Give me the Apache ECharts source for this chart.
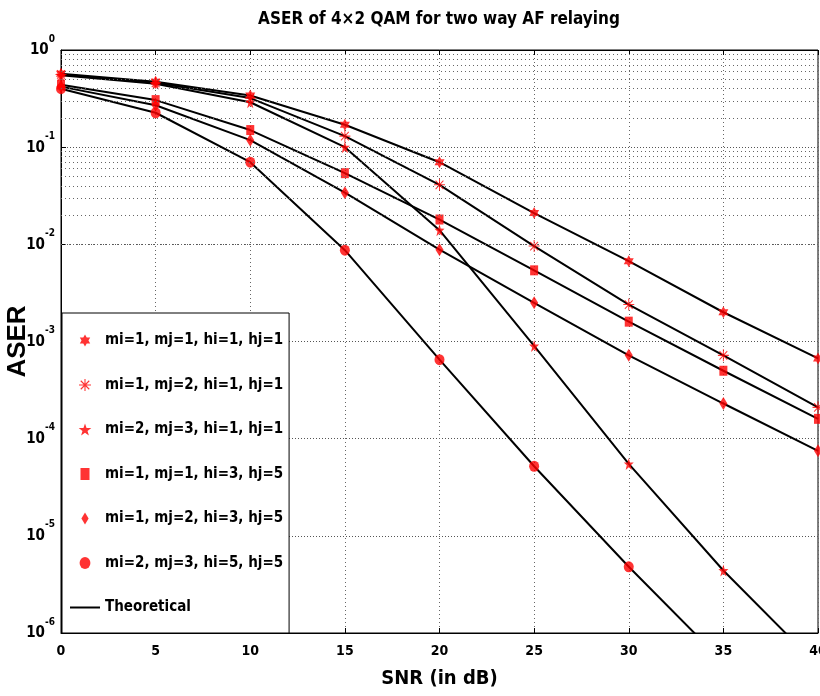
<!DOCTYPE html>
<html>
<head>
<meta charset="utf-8">
<script src="https://cdn.jsdelivr.net/npm/echarts@6/dist/echarts.min.js"></script>
<style>html,body{margin:0;padding:0;background:#fff}#c{width:820px;height:696px}</style>
</head>
<body>
<div id="c"></div>
<script>
// ---- data ----
var snr = [0, 5, 10, 15, 20, 25, 30, 35, 40];
var s1 = [0.57, 0.47, 0.34, 0.17, 0.07, 0.021, 0.0067, 0.002, 0.00067];
var s2 = [0.56, 0.46, 0.32, 0.13, 0.041, 0.0096, 0.0024, 0.00072, 0.00021];
var s3 = [0.55, 0.45, 0.29, 0.1, 0.014, 0.0009, 0.000055, 0.0000044, 0.00000046];
var s4 = [0.44, 0.305, 0.15, 0.054, 0.018, 0.0054, 0.0016, 0.0005, 0.00016];
var s5 = [0.42, 0.27, 0.118, 0.034, 0.0088, 0.0025, 0.00072, 0.00023, 0.000075];
var s6 = [0.4, 0.226, 0.07, 0.0087, 0.00065, 0.000052, 0.0000048, 0.0000005, 0.00000005];
var names = ['mi=1, mj=1, hi=1, hj=1', 'mi=1, mj=2, hi=1, hj=1', 'mi=2, mj=3, hi=1, hj=1',
             'mi=1, mj=1, hi=3, hj=5', 'mi=1, mj=2, hi=3, hj=5', 'mi=2, mj=3, hi=5, hj=5'];
var theoName = 'Theoretical';

// ---- symbols ----
function starPath(n, rIn) {
  var p = [];
  for (var k = 0; k < 2 * n; k++) {
    var a = (-90 + k * 180 / n) * Math.PI / 180;
    var r = (k % 2 === 0) ? 1 : rIn;
    p.push((k ? 'L' : 'M') + (r * Math.cos(a)).toFixed(3) + ',' + (r * Math.sin(a)).toFixed(3));
  }
  return 'path://' + p.join(' ') + ' Z';
}
function asteriskPath() {
  var s = '', w = 0.09;
  [0, 45, 90, 135].forEach(function (deg) {
    var a = deg * Math.PI / 180, c = Math.cos(a), sn = Math.sin(a);
    var pts = [[-1, -w], [1, -w], [1, w], [-1, w]].map(function (q) {
      return [(q[0] * c - q[1] * sn).toFixed(3), (q[0] * sn + q[1] * c).toFixed(3)];
    });
    s += 'M' + pts[0].join(',') + ' L' + pts[1].join(',') + ' L' + pts[2].join(',') + ' L' + pts[3].join(',') + ' Z ';
  });
  return 'path://' + s;
}
var symHex = starPath(6, 0.577);
var symAst = asteriskPath();
var symPent = starPath(5, 0.40);
var symSq = 'path://M-0.75,-1 L0.75,-1 L0.75,1 L-0.75,1 Z';
var symDia = 'path://M0,-1 L0.6,0 L0,1 L-0.6,0 Z';
var symCir = 'path://M0,-1 A0.9,1 0 1 1 0,1 A0.9,1 0 1 1 0,-1 Z';
var symLine = 'path://M0,0 L30,0 L30,2 L0,2 Z';

var symbols = [symHex, symAst, symPent, symSq, symDia, symCir];
var sizes = [[10, 12], [11, 12], [10, 12], [8, 10], [8, 13], [10, 11]];
var sets = [s1, s2, s3, s4, s5, s6];

var FONT = '"Liberation Sans Narrow", "DejaVu Sans Condensed", "Liberation Sans", sans-serif';

function pairs(arr) { return snr.map(function (x, i) { return [x, arr[i]]; }); }

var series = [];
// minor log grid lines (2..9 x 10^e)
var minor = [];
for (var e = -6; e < 0; e++) {
  for (var m = 2; m <= 9; m++) minor.push({ yAxis: m * Math.pow(10, e) });
}
series.push({
  type: 'line', data: [], silent: true, z: 1,
  markLine: {
    silent: true, symbol: 'none', label: { show: false },
    lineStyle: { color: '#666', type: [1, 3], width: 1 },
    emphasis: { disabled: true },
    data: minor
  }
});
sets.forEach(function (arr) {
  series.push({
    name: theoName, type: 'line', data: pairs(arr), symbol: 'none', z: 3,
    lineStyle: { color: '#000', width: 2 }, itemStyle: { color: '#000' },
    emphasis: { disabled: true }, silent: true
  });
});
sets.forEach(function (arr, i) {
  series.push({
    name: names[i], type: 'scatter', data: pairs(arr), symbol: symbols[i], symbolSize: sizes[i],
    symbolKeepAspect: false,
    itemStyle: { color: '#ff0000' }, z: 4, emphasis: { disabled: true }, silent: true
  });
});

var legendData = names.map(function (n, i) { return { name: n, icon: symbols[i] }; });
legendData.push({ name: theoName, icon: symLine });

var option = {
  backgroundColor: '#fff',
  animation: false,
  title: {
    text: 'ASER of 4\u00d72 QAM for two way AF relaying',
    left: 434, top: 6, textAlign: 'center',
    textStyle: { fontFamily: FONT, fontWeight: 'bold', fontSize: 17, color: '#000' }
  },
  grid: { left: 61, right: 2, top: 50, bottom: 63, show: true, borderColor: '#000', borderWidth: 1,
          backgroundColor: 'transparent', containLabel: false, outerBoundsMode: 'none' },
  legend: {
    orient: 'vertical', left: 62, top: 313,
    itemWidth: 30, itemHeight: 12, itemGap: 27.5,
    padding: [19, 6, 17, 8],
    backgroundColor: '#fff', borderColor: '#000', borderWidth: 1,
    textStyle: { fontFamily: FONT, fontWeight: 'bold', fontSize: 15, color: '#000', lineHeight: 17 },
    data: legendData, selectedMode: false, z: 10
  },
  xAxis: [{
    type: 'value', min: 0, max: 40, interval: 5,
    name: 'SNR (in dB)', nameLocation: 'middle', nameGap: 36, nameMoveOverlap: false,
    nameTextStyle: { fontFamily: FONT, fontWeight: 'bold', fontSize: 20, color: '#000' },
    axisLine: { lineStyle: { color: '#000', width: 1 } },
    axisTick: { inside: true, length: 5, lineStyle: { color: '#000' } },
    axisLabel: { fontFamily: FONT, fontWeight: 'bold', fontSize: 14, color: '#000', margin: 11 },
    splitLine: { show: true, lineStyle: { color: '#666', type: [1, 3], width: 1 } }
  }, {
    type: 'value', min: 0, max: 40, interval: 5, position: 'top',
    axisLine: { lineStyle: { color: '#000' } },
    axisTick: { inside: true, length: 5, lineStyle: { color: '#000' } },
    axisLabel: { show: false }, splitLine: { show: false }
  }],
  yAxis: {
    type: 'log', logBase: 10, min: 1e-6, max: 1, interval: 1,
    name: 'ASER', nameLocation: 'middle', nameGap: 30, nameMoveOverlap: false,
    nameTextStyle: { fontFamily: '"Liberation Sans", Arial, sans-serif', fontWeight: 'bold', fontSize: 26, color: '#000' },
    axisLine: { show: true, lineStyle: { color: '#000' } },
    axisTick: { inside: true, length: 5, lineStyle: { color: '#000' } },
    axisLabel: {
      margin: 6,
      formatter: function (v) {
        var ex = Math.round(Math.log10(v));
        return '{b|10}{s|' + ex + '}';
      },
      rich: {
        b: { fontFamily: FONT, fontWeight: 'bold', fontSize: 15, color: '#000', lineHeight: 16, verticalAlign: 'bottom' },
        s: { fontFamily: FONT, fontWeight: 'bold', fontSize: 10, color: '#000', verticalAlign: 'bottom', lineHeight: 10, padding: [0, 0, 14, 0] }
      }
    },
    splitLine: { show: true, lineStyle: { color: '#555', type: [1, 2], width: 1 } }
  },
  series: series
};
var chart = echarts.init(document.getElementById('c'), null, { renderer: 'canvas' });
chart.setOption(option);
</script>
</body>
</html>
